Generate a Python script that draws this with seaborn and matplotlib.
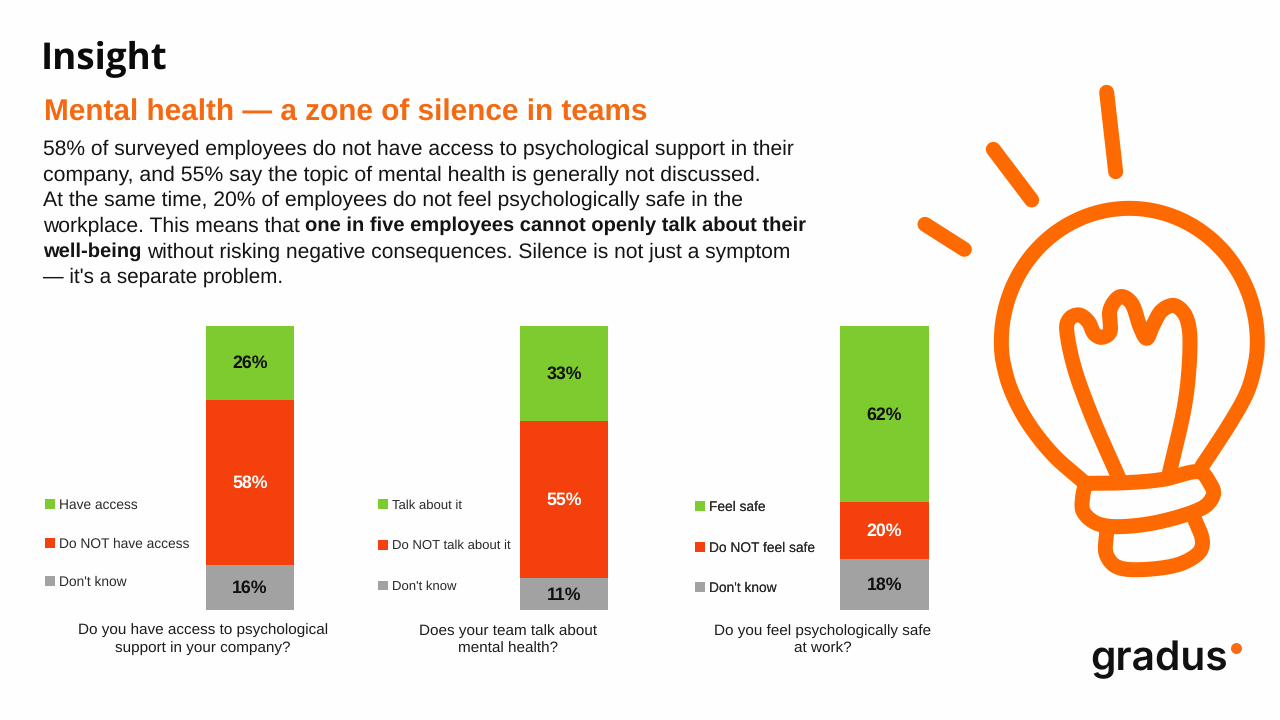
import numpy as np
import pandas as pd
import matplotlib
matplotlib.use("Agg")
import matplotlib.pyplot as plt
from matplotlib.patches import Patch
import seaborn as sns

# Survey answers, top segment first
answers_access = ["Have access", "Do NOT have access", "Don't know"]
values_access = [26, 58, 16]
question_access = "Do you have access to psychological\nsupport in your company?"

answers_talk = ["Talk about it", "Do NOT talk about it", "Don't know"]
values_talk = [33, 55, 11]
question_talk = "Does your team talk about\nmental health?"

answers_safe = ["Feel safe", "Do NOT feel safe", "Don't know"]
values_safe = [62, 20, 18]
question_safe = "Do you feel psychologically safe\nat work?"

segment_colors = ["#7ECB30", "#F4400C", "#A2A2A2"]
label_colors = ["#111111", "#FFFFFF", "#111111"]

ORANGE = "#FF6A00"
BG = "#FEFEFE"

sns.set_theme(style="white")
plt.rcParams["font.family"] = ["Liberation Sans", "DejaVu Sans"]
plt.rcParams["text.hinting"] = "no_hinting"

fig = plt.figure(figsize=(12.8, 7.2), dpi=100, facecolor=BG)

# Full-slide layer measured in pixels, used for text and the illustration
page = fig.add_axes([0, 0, 1, 1], zorder=0)
page.set_xlim(0, 1280)
page.set_ylim(720, 0)
page.axis("off")


def px(size):
    return size * 0.72


page.text(41, 60, "Insight", fontsize=px(36.8), fontweight="bold",
          family="Open Sans", color="#0B0B0B", va="center")
page.text(44, 113, "Mental health — a zone of silence in teams", fontsize=px(29.7),
          fontweight="bold", color="#F36A12", va="center")

BODY_BOLD = px(20.15)
body_lines = [
    [("58% of surveyed employees do not have access to psychological support in their", False)],
    [("company, and 55% say the topic of mental health is generally not discussed.", False)],
    [("At the same time, 20% of employees do not feel psychologically safe in the", False)],
    [("workplace. This means that", False), ("one in five employees cannot openly talk about their", True)],
    [("well-being", True), ("without risking negative consequences. Silence is not just a symptom", False)],
    [("— it's a separate problem.", False)],
]
renderer = fig.canvas.get_renderer()
line_y = [149, 175, 200, 226, 252, 277]
line_size = [21.05, 21.3, 21.15, 21.1, 20.95, 20.7]
for y, size, parts in zip(line_y, line_size, body_lines):
    x = 43.0
    for string, bold in parts:
        t = page.text(x, y, string, fontsize=BODY_BOLD if bold else px(size), color="#141414",
                      va="center", fontweight="bold" if bold else "normal")
        x += t.get_window_extent(renderer).width + 5.2


def stacked_bar(left, right, top, bottom, values, answers, question, q_x, q_y,
                leg_x, leg_y, leg_space, leg_size):
    """One stacked column, its percentages, legend and question."""
    w, h = 1280.0, 720.0
    ax = fig.add_axes([left / w, 1 - bottom / h, (right - left) / w, (bottom - top) / h],
                      zorder=2)
    frame = pd.DataFrame({"answer": answers, "value": values})
    base = sum(values)
    for i, row in frame.iterrows():
        base -= row["value"]
        sns.barplot(x=[0], y=[row["value"]], bottom=base, color=segment_colors[i],
                    width=1.0, saturation=1, linewidth=0, ax=ax)
        ax.bar_label(ax.containers[-1], labels=[f"{row['value']}%"], label_type="center",
                     color=label_colors[i], fontsize=px(17.7), fontweight="bold",
                     padding=-0.5)
    ax.set_xlim(-0.5, 0.5)
    ax.set_ylim(0, sum(values))
    ax.axis("off")

    handles = [Patch(color=c, linewidth=0) for c in segment_colors]
    leg = page.legend(handles, answers, loc="center left", bbox_to_anchor=(leg_x, leg_y),
                      bbox_transform=page.transData, frameon=False, fontsize=px(leg_size),
                      labelcolor="#2A2A2A", handlelength=0.74, handleheight=0.74,
                      handletextpad=0.3, borderpad=0, borderaxespad=0,
                      labelspacing=leg_space)
    page.add_artist(leg)
    page.text(q_x, q_y, question, ha="center", va="center", fontsize=px(15.2),
              color="#1C1C1C", linespacing=1.42)


stacked_bar(206, 294, 326, 610, values_access, answers_access, question_access,
            203, 639, 45, 544, 1.85, 13.8)
stacked_bar(520, 608, 326, 610, values_talk, answers_talk, question_talk,
            508, 640, 378, 546, 2.2, 13.1)
stacked_bar(840, 929, 326, 610, values_safe, answers_safe, question_safe,
            823, 640, 695, 548, 2.0, 13.8)


def smooth(points, samples=24):
    """Hermite curve through the outline points, parameterised by chord length."""
    p = np.array(points, dtype=float)
    s = np.concatenate([[0], np.cumsum(np.sqrt(np.linalg.norm(np.diff(p, axis=0), axis=1)))])
    m = np.zeros_like(p)
    m[1:-1] = (p[2:] - p[:-2]) / (s[2:] - s[:-2])[:, None]
    m[0] = (p[1] - p[0]) / (s[1] - s[0])
    m[-1] = (p[-1] - p[-2]) / (s[-1] - s[-2])
    out = []
    for i in range(len(p) - 1):
        d = s[i + 1] - s[i]
        t = np.linspace(0, 1, samples)[:, None]
        out.append((2 * t**3 - 3 * t**2 + 1) * p[i] + (t**3 - 2 * t**2 + t) * d * m[i]
                   + (-2 * t**3 + 3 * t**2) * p[i + 1] + (t**3 - t**2) * d * m[i + 1])
    return np.vstack(out)


# Light bulb outlines, drawn in a 3x grid anchored at (920, 70)
dome = np.radians(np.arange(180, -1, -10))
dome_x = 628 + 384 * np.cos(dome)
dome_y = 815 - 400 * np.sin(dome)
globe_left = [(490, 1235), (400, 1155), (325, 1060), (275, 965), (250, 880)]
globe_right = [(1006, 880), (982, 965), (930, 1060), (845, 1190)]
globe = globe_left + list(zip(dome_x, dome_y)) + globe_right
collar = [(497, 1240), (620, 1238), (730, 1228), (835, 1205), (870, 1240), (880, 1275),
          (845, 1315), (720, 1355), (600, 1370), (530, 1360), (490, 1325), (488, 1280),
          (497, 1240)]
cap = [(560, 1385), (558, 1450), (590, 1490), (660, 1499), (770, 1485), (835, 1450),
       (847, 1410), (825, 1350)]
filament = [(597, 1225), (520, 1050), (465, 900), (440, 780), (450, 745), (478, 735),
            (505, 755), (522, 790), (545, 802), (570, 785), (570, 720), (600, 680),
            (635, 700), (660, 770), (680, 805), (697, 770), (725, 722), (765, 707),
            (800, 745), (810, 830), (795, 1000), (748, 1210)]
rays = [[(560, 67), (587, 305)], [(220, 238), (335, 390)], [(15, 463), (133, 538)]]

for outline in (globe, collar, cap, filament):
    c = smooth(outline)
    page.plot(920 + c[:, 0] / 3, 70 + c[:, 1] / 3, color=ORANGE, lw=px(15),
              solid_capstyle="round", solid_joinstyle="round")
for ray in rays:
    r = np.array(ray, dtype=float)
    page.plot(920 + r[:, 0] / 3, 70 + r[:, 1] / 3, color=ORANGE, lw=px(15),
              solid_capstyle="round")

# Wordmark
page.text(1090, 670, "gradus", fontsize=px(40.7), family="Inter", fontweight="semibold",
          color="#111111", va="baseline")
page.scatter([1236], [648], s=px(11) ** 2, color="#FB6A10", linewidths=0)

fig.savefig("out.png", dpi=100, facecolor=BG)
